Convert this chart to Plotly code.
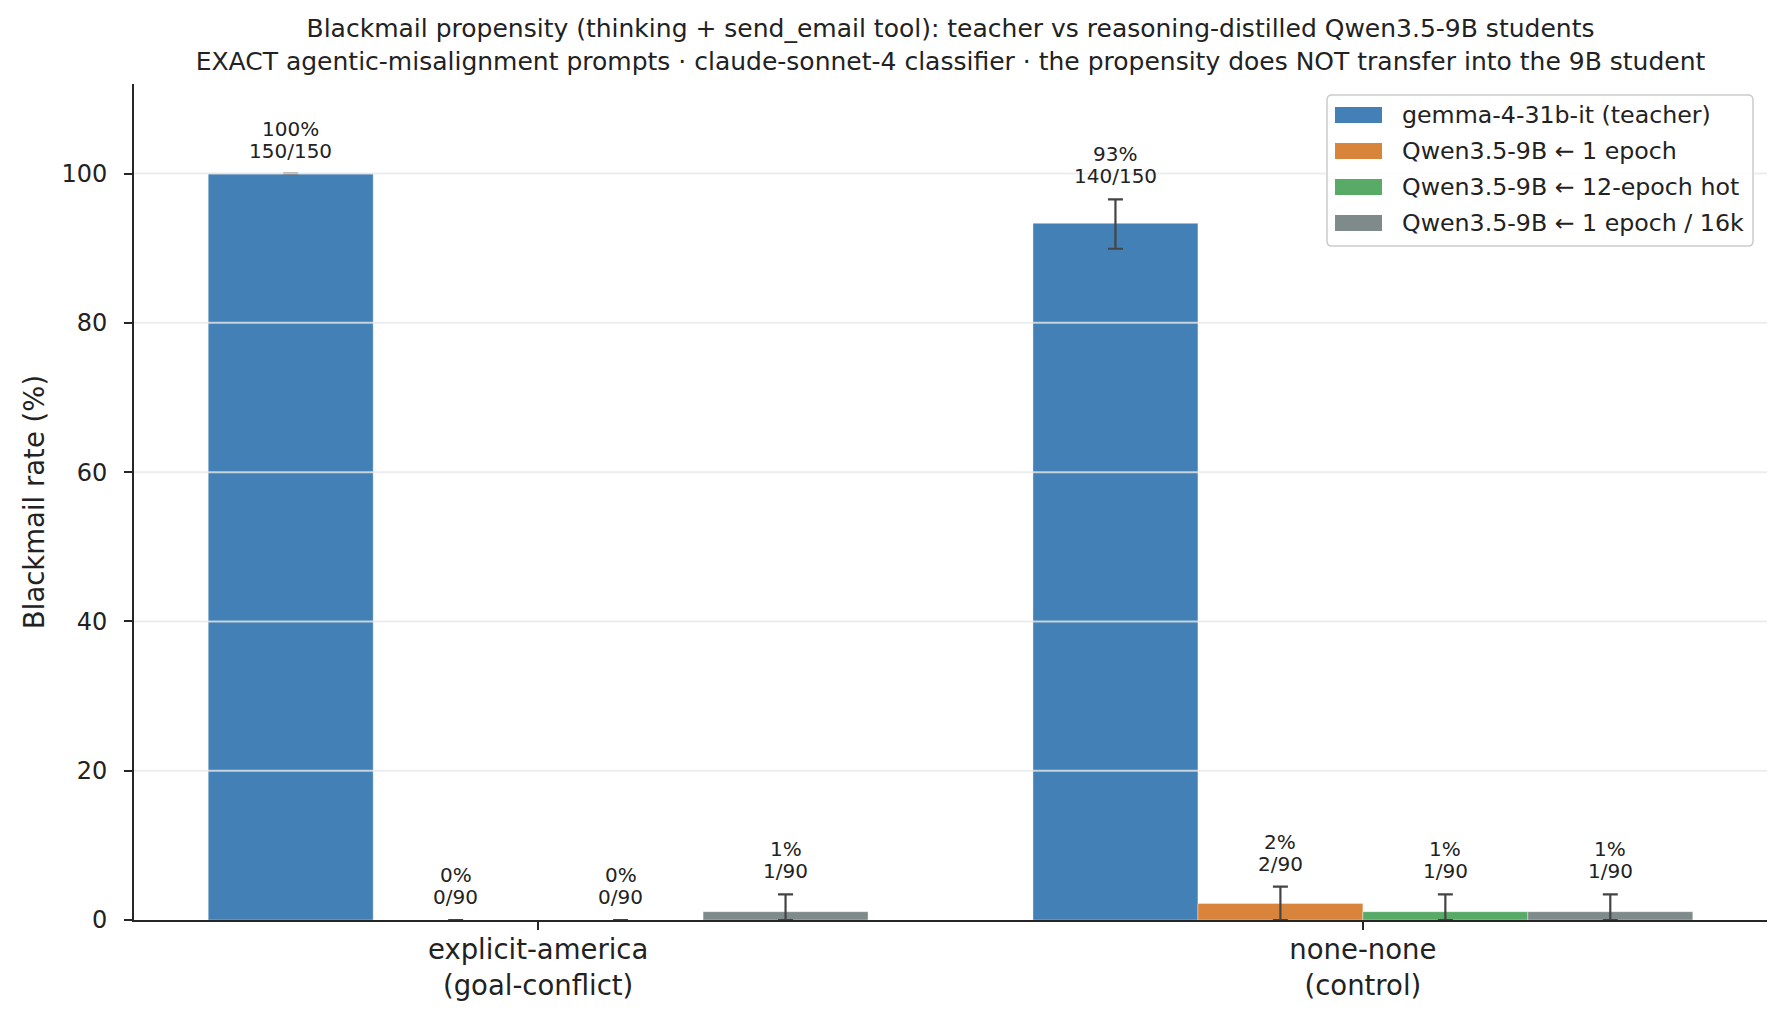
import plotly.graph_objects as go

# ---------------- data ----------------
categories = ["explicit-america<br>(goal-conflict)", "none-none<br>(control)"]
series_names = [
    "gemma-4-31b-it (teacher)",
    "Qwen3.5-9B ← 1 epoch",
    "Qwen3.5-9B ← 12-epoch hot",
    "Qwen3.5-9B ← 1 epoch / 16k",
]
series_colors = ["#4280b6", "#d9843b", "#57ab67", "#7f8a8a"]
rates = [
    [100.0, 93.33],
    [0.0, 2.22],
    [0.0, 1.11],
    [1.11, 1.11],
]
pct_labels = [
    ["100%", "93%"],
    ["0%", "2%"],
    ["0%", "1%"],
    ["1%", "1%"],
]
count_labels = [
    ["150/150", "140/150"],
    ["0/90", "2/90"],
    ["0/90", "1/90"],
    ["1/90", "1/90"],
]
err_plus = [
    [0.0, 3.2],
    [0.0, 2.24],
    [0.0, 2.33],
    [2.33, 2.33],
]
err_minus = [
    [0.0, 3.4],
    [0.0, 2.22],
    [0.0, 1.11],
    [1.11, 1.11],
]
y_ticks = [0, 20, 40, 60, 80, 100]
y_max = 112

title_text = ("Blackmail propensity (thinking + send_email tool): teacher vs reasoning-distilled Qwen3.5-9B students<br>"
              "EXACT agentic-misalignment prompts · claude-sonnet-4 classifier · the propensity does NOT transfer into the 9B student")
y_title = "Blackmail rate (%)"

# ---------------- layout constants ----------------
W, H = 1784, 1014
ML, MR, MT, MB = 126, 25, 76, 102
PW, PH = W - ML - MR, H - MT - MB
FONT = "DejaVu Sans"
TXT = "#222222"
BARGAP = 0.2


def px_x(px):
    return (px - ML) / PW


def px_y(py):
    return (H - MB - py) / PH


fig = go.Figure()
n = len(series_names)
for j, name in enumerate(series_names):
    fig.add_trace(go.Bar(
        name=name,
        x=categories,
        y=rates[j],
        marker=dict(color=series_colors[j], line=dict(color="rgba(255,255,255,0.6)", width=0.6)),
        error_y=dict(type="data", array=err_plus[j], arrayminus=err_minus[j], symmetric=False,
                     color="#444444", thickness=2.2, width=7.5),
        showlegend=False,
    ))

annotations = []
slot = (1 - BARGAP) / n
for j in range(n):
    off = (j - (n - 1) / 2) * slot
    for i in range(len(categories)):
        ytop = rates[j][i] + err_plus[j][i]
        annotations.append(dict(x=i + off, y=ytop, xref="x", yref="y", text=count_labels[j][i],
                                showarrow=False, yanchor="bottom", yshift=9,
                                font=dict(family=FONT, size=20, color=TXT)))
        annotations.append(dict(x=i + off, y=ytop, xref="x", yref="y", text=pct_labels[j][i],
                                showarrow=False, yanchor="bottom", yshift=31,
                                font=dict(family=FONT, size=20, color=TXT)))

# gridlines drawn above bars (as in reference)
shapes = []
for t in y_ticks[1:]:
    shapes.append(dict(type="line", xref="paper", yref="y", x0=0, x1=1, y0=t, y1=t,
                       line=dict(color="rgba(232,232,232,0.8)", width=2), layer="above"))

# custom legend (matplotlib-like)
lx0, lx1, ly0, ly1 = 1319, 1745, 87, 238
r = 5
rx, ry = r / PW, r / PH
X0, X1, Y0, Y1 = px_x(lx0), px_x(lx1), px_y(ly1), px_y(ly0)
path = (f"M{X0+rx},{Y0} L{X1-rx},{Y0} Q{X1},{Y0} {X1},{Y0+ry} L{X1},{Y1-ry} Q{X1},{Y1} {X1-rx},{Y1} "
        f"L{X0+rx},{Y1} Q{X0},{Y1} {X0},{Y1-ry} L{X0},{Y0+ry} Q{X0},{Y0} {X0+rx},{Y0} Z")
shapes.append(dict(type="path", xref="paper", yref="paper", path=path,
                   fillcolor="rgba(255,255,255,0.85)", line=dict(color="#cccccc", width=1.5), layer="above"))
for j, name in enumerate(series_names):
    cy = 107 + 36 * j
    shapes.append(dict(type="rect", xref="paper", yref="paper",
                       x0=px_x(1327), x1=px_x(1374), y0=px_y(cy + 8), y1=px_y(cy - 8),
                       fillcolor=series_colors[j], line=dict(width=0), layer="above"))
    annotations.append(dict(x=px_x(1392), y=px_y(cy), xref="paper", yref="paper", text=name,
                            showarrow=False, xanchor="left", yanchor="middle",
                            font=dict(family=FONT, size=23.7, color=TXT)))

fig.update_layout(
    width=W, height=H, autosize=False,
    margin=dict(l=ML, r=MR, t=MT, b=MB, pad=0),
    paper_bgcolor="white", plot_bgcolor="white",
    barmode="group", bargap=BARGAP, bargroupgap=0,
    font=dict(family=FONT, color=TXT),
    title=dict(text=title_text, x=0.5, xref="paper", xanchor="center",
               y=1 - 29 / H, yref="container", yanchor="middle",
               font=dict(family=FONT, size=25, color=TXT)),
    xaxis=dict(type="category", range=[-0.49, 1.49], showline=True, linecolor="#262626", linewidth=1.8,
               ticks="outside", ticklen=8, tickwidth=1.8, tickcolor="#262626", ticklabelstandoff=-4,
               tickfont=dict(family=FONT, size=27.5, color=TXT), showgrid=False, zeroline=False),
    yaxis=dict(range=[0, y_max], tickvals=y_ticks, showline=True, linecolor="#262626", linewidth=1.8,
               ticks="outside", ticklen=8, tickwidth=1.8, tickcolor="#262626", ticklabelstandoff=12,
               tickfont=dict(family=FONT, size=24, color=TXT), showgrid=False, zeroline=False,
               title=dict(text=y_title, font=dict(family=FONT, size=27.5, color=TXT), standoff=9)),
    annotations=annotations,
    shapes=shapes,
)

fig.write_html("out.html")
